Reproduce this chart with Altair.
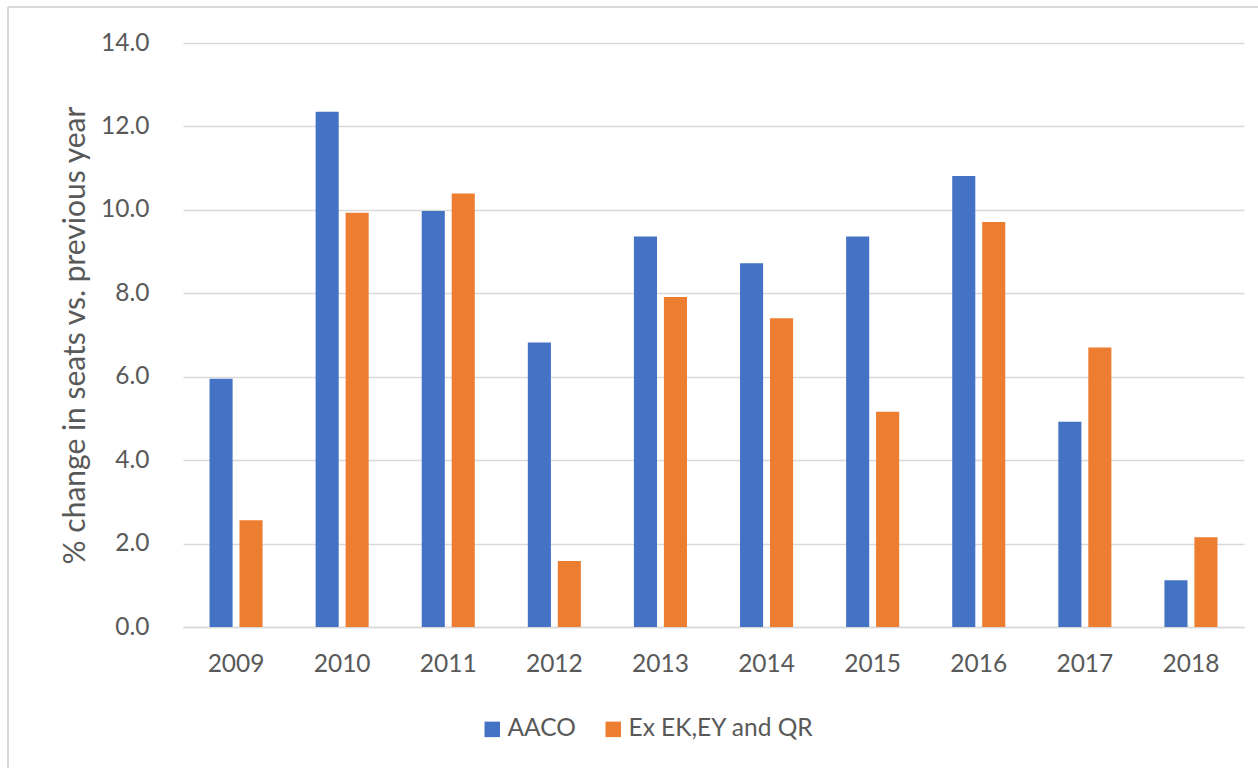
import altair as alt
import pandas as pd

# Year-on-year % change in seats
years = ["2009", "2010", "2011", "2012", "2013", "2014", "2015", "2016", "2017", "2018"]
aaco = [5.95, 12.35, 9.97, 6.82, 9.36, 8.72, 9.36, 10.81, 4.92, 1.12]
ex_ek_ey_qr = [2.56, 9.93, 10.39, 1.58, 7.91, 7.40, 5.16, 9.71, 6.70, 2.15]

series_names = ["AACO", "Ex EK,EY and QR"]
series_colors = ["#4472C4", "#ED7D31"]
y_ticks = [0, 2, 4, 6, 8, 10, 12, 14]

FONT = "Lato"
TEXT = "#595959"
GRID = "#D9D9D9"

rows = []
for yr, a, e in zip(years, aaco, ex_ek_ey_qr):
    rows.append({"year": yr, "series": series_names[0], "value": a})
    rows.append({"year": yr, "series": series_names[1], "value": e})
df = pd.DataFrame(rows)

bars = alt.Chart(df).mark_bar().encode(
    x=alt.X(
        "year:N",
        sort=years,
        scale=alt.Scale(paddingInner=0.5, paddingOuter=0.25),
        axis=alt.Axis(
            title=None,
            labelAngle=0,
            ticks=False,
            domainColor=GRID,
            domainWidth=1.5,
            labelPadding=25,
            labelFont=FONT,
            labelFontSize=24.5,
            labelColor=TEXT,
        ),
    ),
    xOffset=alt.XOffset("series:N", sort=series_names, scale=alt.Scale(paddingInner=0.23)),
    y=alt.Y(
        "value:Q",
        scale=alt.Scale(domain=[0, 14], nice=False),
        axis=alt.Axis(
            title="% change in seats vs. previous year",
            values=y_ticks,
            format=".1f",
            ticks=False,
            domain=False,
            gridColor=GRID,
            gridWidth=1.5,
            labelPadding=34,
            labelFont=FONT,
            labelFontSize=24.5,
            labelColor=TEXT,
            titleFont=FONT,
            titleFontSize=30,
            titleFontWeight="normal",
            titleColor=TEXT,
            titleX=-99,
            titleY=292,
            titleAlign="center",
            titleBaseline="alphabetic",
            titleAngle=270,
            titleLimit=700,
        ),
    ),
    color=alt.Color(
        "series:N",
        sort=series_names,
        scale=alt.Scale(domain=series_names, range=series_colors),
        legend=alt.Legend(
            title=None,
            orient="none",
            direction="horizontal",
            legendX=297,
            legendY=674,
            symbolType="square",
            symbolSize=240,
            symbolStrokeWidth=0,
            columnPadding=25,
            labelOffset=3,
            labelLimit=400,
            labelFont=FONT,
            labelFontSize=24.5,
            labelColor=TEXT,
        ),
    ),
)

# Chart frame (light grey outline around the whole figure)
frame_df = pd.DataFrame({"k": [0]})
frame_left = alt.Chart(frame_df).mark_rule(color=GRID, strokeWidth=2).encode(
    x=alt.value(-175), y=alt.value(-36), y2=alt.value(760)
)
frame_top = alt.Chart(frame_df).mark_rule(color=GRID, strokeWidth=2).encode(
    x=alt.value(-175), x2=alt.value(1090), y=alt.value(-36)
)

chart = (
    alt.layer(bars, frame_left, frame_top)
    .properties(
        width=1061,
        height=584,
        autosize=alt.AutoSizeParams(type="none"),
        padding={"left": 183, "top": 43, "right": 14, "bottom": 141},
        background="white",
    )
    .configure_view(stroke=None)
)

chart.save("out.html", embed_options={"renderer": "svg", "actions": False})
